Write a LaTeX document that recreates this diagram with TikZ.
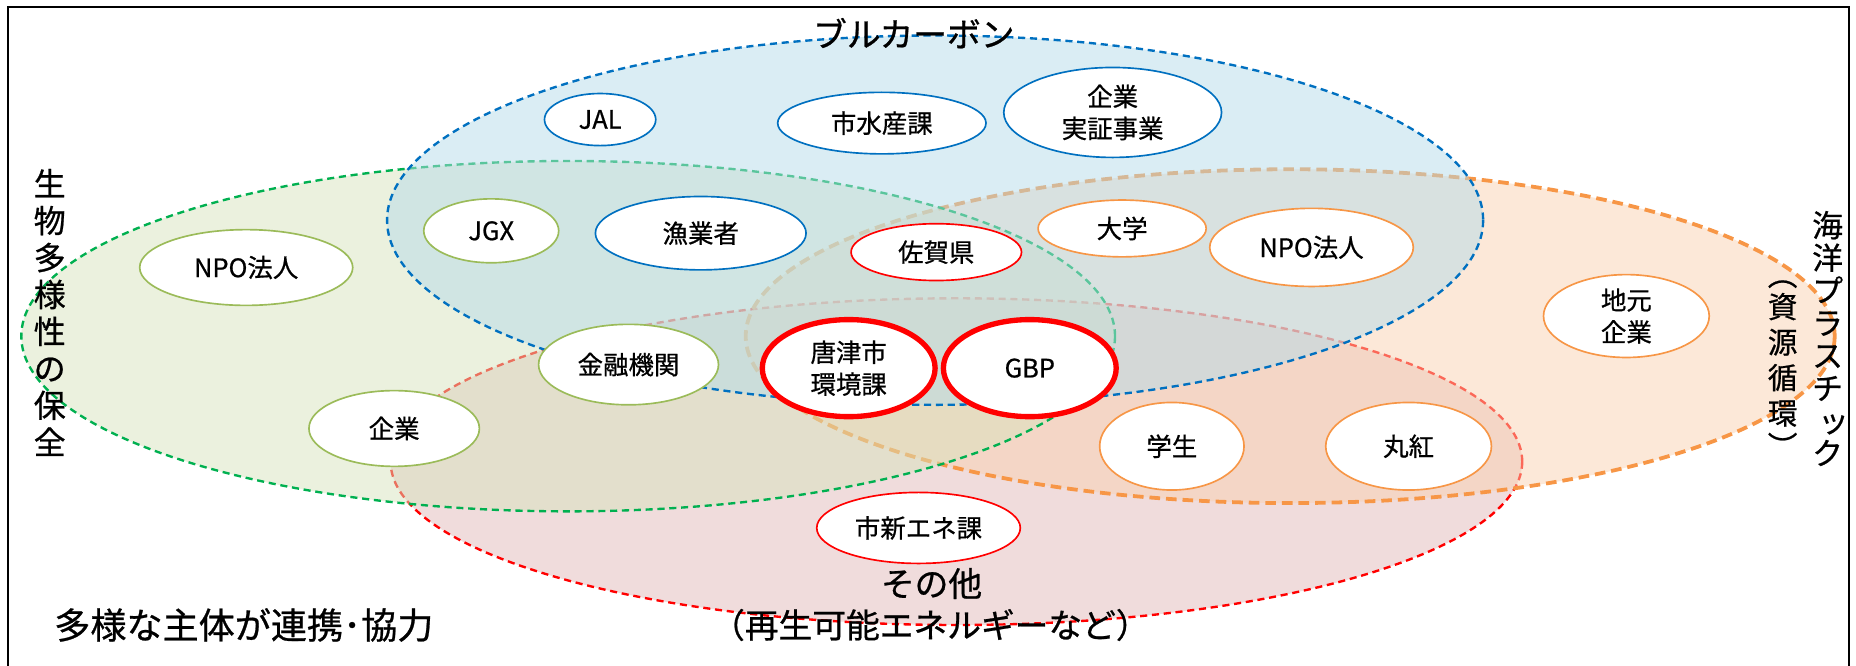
\documentclass[tikz,border=0pt]{standalone}
\usepackage{fontspec}
\setmainfont{Noto Sans CJK JP}[FakeBold=0.7]
\usetikzlibrary{shapes.geometric}
\definecolor{cblue}{RGB}{0,112,192}
\definecolor{cgreen}{RGB}{0,176,80}
\definecolor{corange}{RGB}{247,150,70}
\definecolor{cred}{RGB}{255,0,0}
\definecolor{ngreen}{RGB}{155,187,89}
\definecolor{fblue}{RGB}{181,219,233}
\definecolor{fgreen}{RGB}{215,227,189}
\definecolor{forange}{RGB}{249,209,177}
\definecolor{fred}{RGB}{225,185,185}
\begin{document}
\begin{tikzpicture}[x=1pt,y=-1pt,
  region/.style={line width=2pt, dash pattern=on 6pt off 4pt, fill opacity=0.5},
  org/.style={ellipse, draw, fill=white, line width=1.4pt, inner sep=0pt, text=black,
    font=\fontsize{21.5}{27}\selectfont, align=center},
  bluenode/.style={org, draw=cblue},
  greennode/.style={org, draw=ngreen},
  orangenode/.style={org, draw=corange},
  rednode/.style={org, draw=cred},
  keynode/.style={org, draw=cred, line width=4.5pt},
  bigtxt/.style={font=\fontsize{28.5}{32}\selectfont, inner sep=0pt, text=black},
  vtxt/.style={inner sep=0pt, align=center, text=black},
  vparen/.style={inner sep=0pt, text=black, rotate=-90, font=\fontsize{25}{30}\selectfont}
  ]
\useasboundingbox (0,0) rectangle (1568,562);
\draw[line width=1.5pt] (7,575) -- (7,6) -- (1562,6) -- (1562,575);

% regions
\draw[region, draw=cred, fill=fred] (808,390) ellipse [x radius=478, y radius=138];
\draw[region, draw=corange, fill=forange, line width=3.2pt, dash pattern=on 9pt off 5pt] (1090,284) ellipse [x radius=460, y radius=141];
\draw[region, draw=cgreen, fill=fgreen] (480,284) ellipse [x radius=462, y radius=148];
\draw[region, draw=cblue, fill=fblue] (790,186) ellipse [x radius=463, y radius=156];

% region labels
\node[bigtxt] (tblue) at (772,28) {ブルカーボン};
\node[vtxt, font=\fontsize{27}{31.2}\selectfont] (tbio) at (42,264) {生\\物\\多\\様\\性\\の\\保\\全};
\node[vtxt, font=\fontsize{26}{27.5}\selectfont] (tocean) at (1544,286) {海\\洋\\プ\\ラ\\ス\\チ\\\hspace*{10pt}ッ\\ク};
\node[vparen] (tresl) at (1506,232) {（};
\node[vtxt, font=\fontsize{25}{30}\selectfont] (tres) at (1506,304) {資\\源\\循\\環};
\node[vparen] (tresr) at (1506,377) {）};
\node[bigtxt] (tother) at (787,493) {その他};
\node[bigtxt] (trenew) at (786,528) {（再生可能エネルギーなど）};
\node[bigtxt, font=\fontsize{30.5}{32}\selectfont] (tcollab) at (206,528) {多様な主体が連携･協力};

% organisations
\node[bluenode, minimum width=94, minimum height=44] (jal) at (507,101) {JAL};
\node[bluenode, minimum width=176, minimum height=52] (sui) at (745,104) {市水産課};
\node[bluenode, minimum width=184, minimum height=76] (jissho) at (940,95) {企業\\実証事業};
\node[greennode, minimum width=114, minimum height=54] (jgx) at (415,195) {JGX};
\node[bluenode, minimum width=178, minimum height=62] (gyo) at (592,197) {漁業者};
\node[rednode, minimum width=144, minimum height=48] (saga) at (791,213) {佐賀県};
\node[orangenode, minimum width=142, minimum height=48] (dai) at (948,193) {大学};
\node[orangenode, minimum width=172, minimum height=66] (npor) at (1108,209) {NPO法人};
\node[greennode, minimum width=180, minimum height=64] (npol) at (208,226) {NPO法人};
\node[orangenode, minimum width=140, minimum height=70] (jimoto) at (1374,267) {地元\\企業};
\node[greennode, minimum width=152, minimum height=68] (kinyu) at (531,308) {金融機関};
\node[keynode, minimum width=146, minimum height=82] (karatsu) at (717,311) {唐津市\\環境課};
\node[keynode, minimum width=146, minimum height=82] (gbp) at (870,311) {GBP};
\node[greennode, minimum width=144, minimum height=64] (kigyo) at (333,362) {企業};
\node[orangenode, minimum width=122, minimum height=74] (gaku) at (990,377) {学生};
\node[orangenode, minimum width=140, minimum height=74] (maru) at (1190,377) {丸紅};
\node[rednode, minimum width=172, minimum height=60] (shin) at (776,446) {市新エネ課};
\end{tikzpicture}
\end{document}
